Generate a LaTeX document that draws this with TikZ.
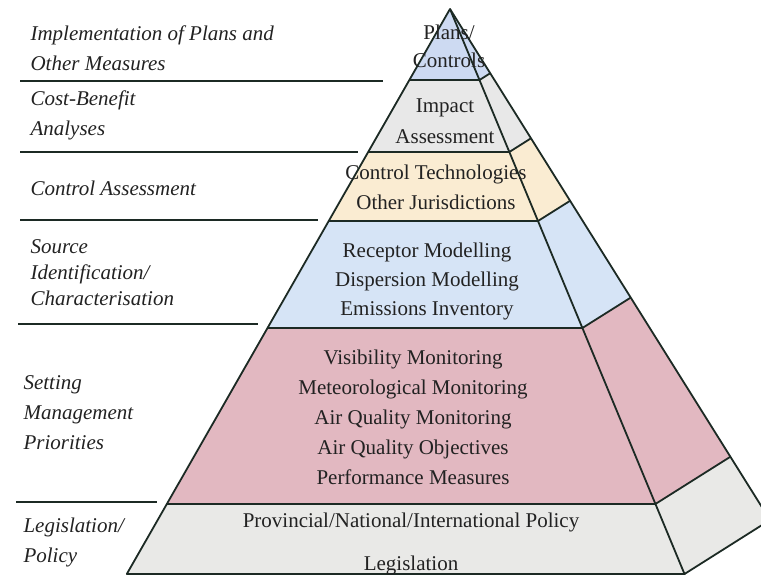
\documentclass[tikz,border=0pt]{standalone}
\usepackage{fontspec}
\setmainfont{Liberation Serif}
\usepackage{xcolor}
\definecolor{edgeline}{RGB}{28,42,36}
\definecolor{inkgrey}{RGB}{34,34,34}
\definecolor{planblue}{RGB}{205,218,242}
\definecolor{impactgrey}{RGB}{232,232,232}
\definecolor{controlpeach}{RGB}{250,236,210}
\definecolor{sourceblue}{RGB}{214,228,246}
\definecolor{priorityred}{RGB}{226,184,193}
\definecolor{lawgrey}{RGB}{233,233,231}

\begin{document}
\begin{tikzpicture}[x=1pt,y=-1pt,
    edge/.style={draw=edgeline,line width=1.8pt,line join=round},
    tier/.style={align=center,text=inkgrey,font=\fontsize{21}{30}\selectfont},
    task/.style={anchor=west,align=left,text=inkgrey,font=\fontsize{21}{30}\selectfont\itshape}]
      \useasboundingbox (0,0) rectangle (761,577);
      \clip (0,0) rectangle (761,577);

      \fill[planblue] (450,9) -- (479.5,80) -- (409.4,80) -- cycle;
      \fill[impactgrey] (409.4,80) -- (479.5,80) -- (509.3,152) -- (368.2,152) -- cycle;
      \fill[controlpeach] (368.2,152) -- (509.3,152) -- (538,221) -- (328.7,221) -- cycle;
      \fill[sourceblue] (328.7,221) -- (538,221) -- (582.4,328) -- (267.5,328) -- cycle;
      \fill[priorityred] (267.5,328) -- (582.4,328) -- (655.4,504) -- (166.9,504) -- cycle;
      \fill[lawgrey] (166.9,504) -- (655.4,504) -- (684.5,574) -- (126.8,574) -- cycle;

      \fill[planblue] (450,9) -- (490.3,73.2) -- (479.5,80) -- cycle;
      \fill[impactgrey] (479.5,80) -- (490.3,73.2) -- (531,138.3) -- (509.3,152) -- cycle;
      \fill[controlpeach] (509.3,152) -- (531,138.3) -- (570.1,200.8) -- (538,221) -- cycle;
      \fill[sourceblue] (538,221) -- (570.1,200.8) -- (630.7,297.6) -- (582.4,328) -- cycle;
      \fill[priorityred] (582.4,328) -- (630.7,297.6) -- (730.3,456.8) -- (655.4,504) -- cycle;
      \fill[lawgrey] (655.4,504) -- (730.3,456.8) -- (770,520) -- (684.5,574) -- cycle;

      \draw[edge] (126.8,574) -- (450,9) -- (684.5,574) -- cycle;
      \draw[edge] (450,9) -- (770,520) -- (684.5,574);
      \draw[edge] (409.4,80) -- (479.5,80) -- (490.3,73.2);
      \draw[edge] (368.2,152) -- (509.3,152) -- (531,138.3);
      \draw[edge] (328.7,221) -- (538,221) -- (570.1,200.8);
      \draw[edge] (267.5,328) -- (582.4,328) -- (630.7,297.6);
      \draw[edge] (166.9,504) -- (655.4,504) -- (730.3,456.8);

      \draw[edge] (20,81) -- (383,81);
      \draw[edge] (20,152) -- (358,152);
      \draw[edge] (20,220) -- (318,220);
      \draw[edge] (18,324) -- (258,324);
      \draw[edge] (16,502) -- (157,502);

      \node[task] (implement) at (27,48) {Implementation of Plans and\\Other Measures};
      \node[task] (costbenefit) at (27,115) {Cost-Benefit\\Analyses};
      \node[task] (ctrlassess) at (27,188) {Control Assessment};
      \node[task,font=\fontsize{21}{26}\selectfont\itshape] (sourceid) at (27,273) {Source\\Identification/\\Characterisation};
      \node[task] (priorities) at (20,413) {Setting\\Management\\Priorities};
      \node[task] (legislation) at (20,542) {Legislation/\\Policy};

      \node[tier,font=\fontsize{21}{28}\selectfont] (plans) at (449,46) {Plans/\\Controls};
      \node[tier,font=\fontsize{21}{31}\selectfont] (impact) at (445,121) {Impact\\Assessment};
      \node[tier] (ctrltech) at (436,187) {Control Technologies\\Other Jurisdictions};
      \node[tier,font=\fontsize{21}{29}\selectfont] (modelling) at (427,281) {Receptor Modelling\\Dispersion Modelling\\Emissions Inventory};
      \node[tier] (monitoring) at (413,417) {Visibility Monitoring\\Meteorological Monitoring\\Air Quality Monitoring\\Air Quality Objectives\\Performance Measures};
      \node[tier] (policy) at (411,544) {Provincial/National/International Policy\\[13pt]Legislation};
    \end{tikzpicture}
\end{document}
